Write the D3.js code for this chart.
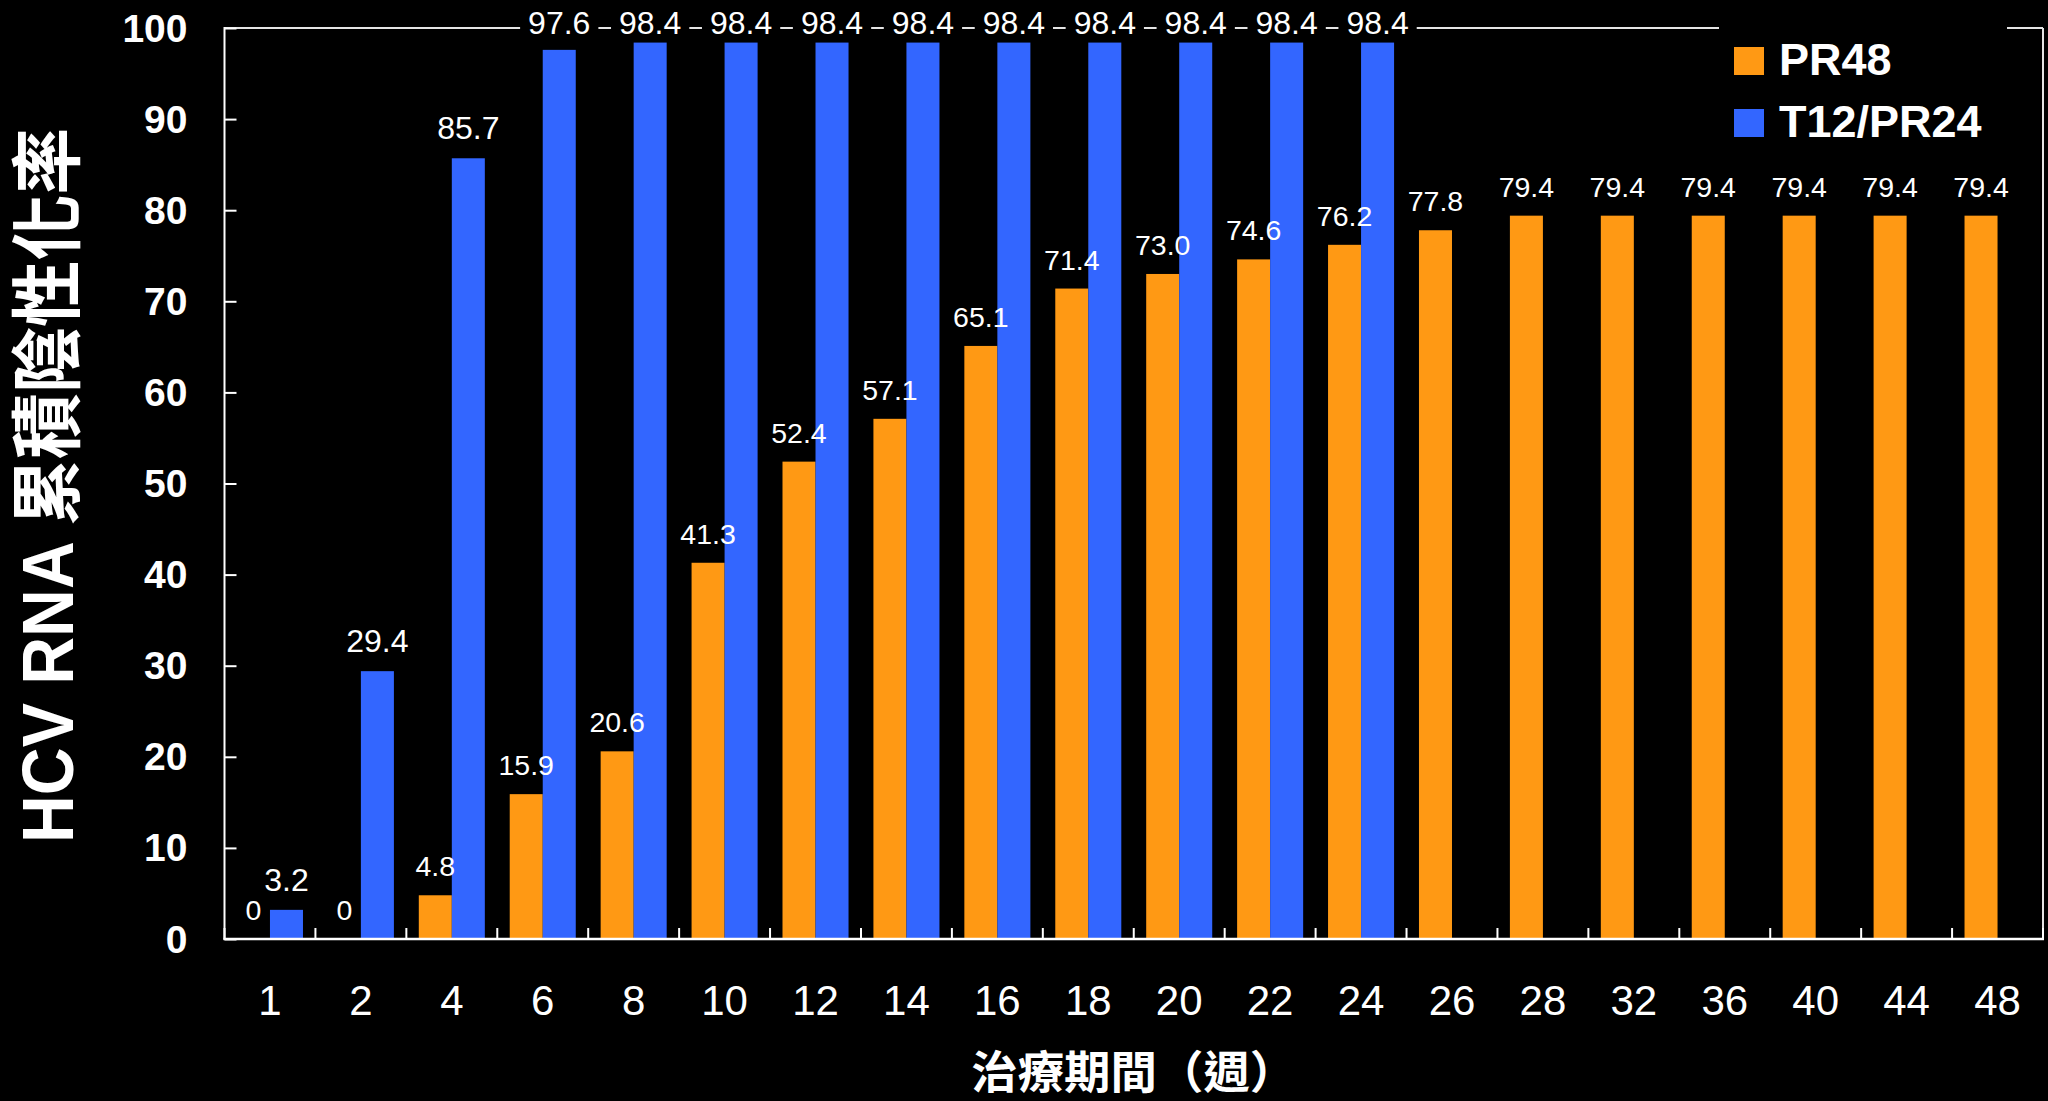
<!DOCTYPE html>
<html>
<head>
<meta charset="utf-8">
<script src="https://cdn.jsdelivr.net/npm/d3@7/dist/d3.min.js"></script>
<style>
  html, body { margin: 0; padding: 0; background: #000; }
  svg { display: block; }
</style>
</head>
<body>
<svg id="chart" width="2048" height="1101"></svg>
<script>
// ---------- data ----------
const weeks = ["1","2","4","6","8","10","12","14","16","18","20","22","24","26","28","32","36","40","44","48"];
const seriesNames = ["PR48", "T12/PR24"];
const pr48 = [0, 0, 4.8, 15.9, 20.6, 41.3, 52.4, 57.1, 65.1, 71.4, 73.0, 74.6, 76.2, 77.8, 79.4, 79.4, 79.4, 79.4, 79.4, 79.4];
const t12pr24 = [3.2, 29.4, 85.7, 97.6, 98.4, 98.4, 98.4, 98.4, 98.4, 98.4, 98.4, 98.4, 98.4, null, null, null, null, null, null, null];
const yTicks = [0, 10, 20, 30, 40, 50, 60, 70, 80, 90, 100];
const yTitle = "HCV RNA 累積陰性化率";
const xTitle = "治療期間（週）";

// ---------- styles ----------
const colors = { "PR48": "#FF9914", "T12/PR24": "#3366FF" };
const labelSize = { "PR48": 28.5, "T12/PR24": 32 };
const latin = "'Liberation Sans', Arial, sans-serif";
const mixed = "'Liberation Sans', 'Noto Sans CJK TC', 'Noto Sans CJK JP', sans-serif";

// ---------- layout ----------
const W = 2048, H = 1101;
const plot = { left: 224.5, right: 2043, top: 28, bottom: 939 };

const svg = d3.select("#chart");
svg.append("rect").attr("width", W).attr("height", H).attr("fill", "#000");

const x0 = d3.scaleBand().domain(weeks).range([plot.left, plot.right]).padding(0);
const x1 = d3.scaleBand().domain(seriesNames).range([0, x0.bandwidth()]).paddingInner(0).paddingOuter(0.377);
const y = d3.scaleLinear().domain([0, 100]).range([plot.bottom, plot.top]);

const table = weeks.map((w, i) => ({ week: w, values: [
  { key: "PR48", v: pr48[i] },
  { key: "T12/PR24", v: t12pr24[i] }
].filter(d => d.v !== null) }));

// frame (top & right)
const frame = svg.append("g").attr("stroke", "#e4e4e4").attr("stroke-width", 2).attr("fill", "none");
frame.append("line").attr("x1", plot.left).attr("x2", plot.right).attr("y1", y(100)).attr("y2", y(100));
frame.append("line").attr("x1", plot.right).attr("x2", plot.right).attr("y1", y(100)).attr("y2", y(0));

// bars
const groups = svg.append("g").selectAll("g").data(table).join("g")
  .attr("transform", d => `translate(${x0(d.week)},0)`);

groups.selectAll("rect").data(d => d.values).join("rect")
  .attr("x", d => x1(d.key))
  .attr("width", x1.bandwidth())
  .attr("y", d => y(d.v))
  .attr("height", d => y(0) - y(d.v))
  .attr("fill", d => colors[d.key]);

// value labels
const fmt = v => v === 0 ? "0" : v.toFixed(1);
const labelLayer = svg.append("g");
table.forEach(row => {
  row.values.forEach(d => {
    const cx = x0(row.week) + x1(d.key) + x1.bandwidth() / 2;
    let by = y(d.v) - 19;
    const clamped = by < y(100) + 6;
    if (clamped) by = y(100) + 6;
    const g = labelLayer.append("g");
    const t = g.append("text")
      .attr("x", cx).attr("y", by)
      .attr("text-anchor", "middle")
      .attr("font-family", latin)
      .attr("font-size", labelSize[d.key])
      .attr("fill", "#fff")
      .text(fmt(d.v));
    if (clamped) {
      const bb = t.node().getBBox();
      g.insert("rect", "text")
        .attr("x", bb.x - 8).attr("y", bb.y)
        .attr("width", bb.width + 16).attr("height", bb.height)
        .attr("fill", "#000");
    }
  });
});

// y axis
const yAxis = svg.append("g").attr("transform", `translate(${plot.left},0)`)
  .call(d3.axisRight(y).tickValues(yTicks).tickSize(12).tickFormat(""));
yAxis.select(".domain").remove();
yAxis.selectAll(".tick line").attr("stroke", "#fff").attr("stroke-width", 2);
svg.append("line").attr("x1", plot.left).attr("x2", plot.left)
  .attr("y1", y(100) - 1).attr("y2", y(0) + 1)
  .attr("stroke", "#fff").attr("stroke-width", 2);

svg.append("g").selectAll("text").data(yTicks).join("text")
  .attr("x", 187.5).attr("y", d => y(d))
  .attr("text-anchor", "end")
  .attr("dominant-baseline", "central")
  .attr("font-family", latin).attr("font-weight", "bold")
  .attr("font-size", 39).attr("fill", "#fff")
  .text(d => d);

// x axis
const boundaries = weeks.map(w => x0(w)).concat([plot.right]);
svg.append("g").selectAll("line").data(boundaries).join("line")
  .attr("x1", d => d).attr("x2", d => d)
  .attr("y1", y(0)).attr("y2", y(0) - 11)
  .attr("stroke", "#fff").attr("stroke-width", 2);
svg.append("line").attr("x1", plot.left - 1).attr("x2", plot.right + 1)
  .attr("y1", y(0)).attr("y2", y(0))
  .attr("stroke", "#fff").attr("stroke-width", 2.5);

svg.append("g").selectAll("text").data(weeks).join("text")
  .attr("x", d => x0(d) + x0.bandwidth() / 2)
  .attr("y", 1015)
  .attr("text-anchor", "middle")
  .attr("font-family", latin)
  .attr("font-size", 42).attr("fill", "#fff")
  .text(d => d);

// axis titles
svg.append("text")
  .attr("x", (plot.left + plot.right) / 2).attr("y", 1073)
  .attr("text-anchor", "middle").attr("dominant-baseline", "central")
  .attr("font-family", mixed).attr("font-weight", "bold")
  .attr("font-size", 45).attr("fill", "#fff")
  .attr("textLength", 325).attr("lengthAdjust", "spacingAndGlyphs")
  .text(xTitle);

svg.append("text")
  .attr("transform", `translate(73,${(plot.top + plot.bottom) / 2 + 2}) rotate(-90)`)
  .attr("text-anchor", "middle")
  .attr("font-family", mixed).attr("font-weight", "bold")
  .attr("font-size", 72).attr("fill", "#fff")
  .attr("textLength", 715).attr("lengthAdjust", "spacingAndGlyphs")
  .text(yTitle);

// legend
const legend = svg.append("g");
legend.append("rect").attr("x", 1719).attr("y", 0).attr("width", 2007 - 1719).attr("height", 160).attr("fill", "#000");
const items = legend.selectAll("g").data(seriesNames).join("g")
  .attr("transform", (d, i) => `translate(1734,${47 + i * 62})`);
items.append("rect").attr("width", 30).attr("height", 28).attr("fill", d => colors[d]);
items.append("text").attr("x", 45).attr("y", 28)
  .attr("font-family", latin).attr("font-weight", "bold")
  .attr("font-size", 45).attr("fill", "#fff")
  .text(d => d);
</script>
</body>
</html>
